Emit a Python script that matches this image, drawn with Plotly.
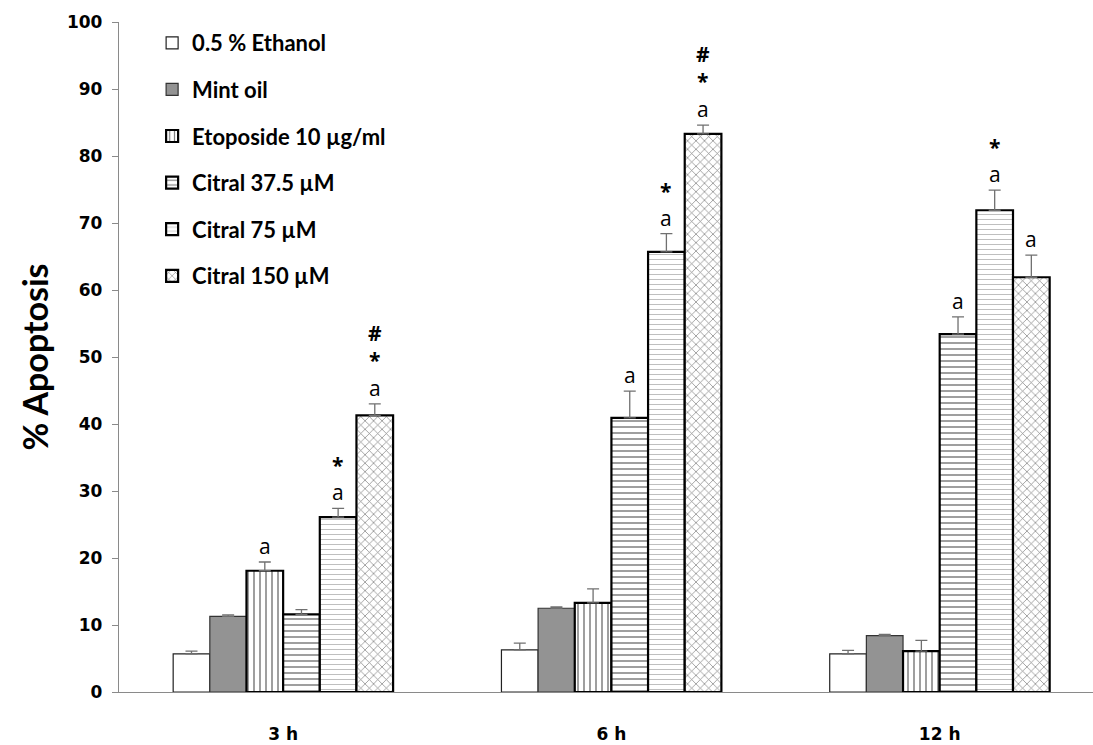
import plotly.graph_objects as go

times = ["3 h", "6 h", "12 h"]
series = ["0.5 % Ethanol", "Mint oil", "Etoposide 10 µg/ml", "Citral 37.5 µM", "Citral 75 µM", "Citral 150 µM"]

ethanol = [5.7, 6.3, 5.7]
mint = [11.3, 12.5, 8.4]
etoposide = [18.1, 13.3, 6.1]
citral_37 = [11.6, 40.9, 53.4]
citral_75 = [26.1, 65.7, 71.9]
citral_150 = [41.3, 83.3, 61.9]

ethanol_err = [0.4, 1.0, 0.5]
mint_err = [0.2, 0.2, 0.2]
etoposide_err = [1.3, 2.1, 1.6]
citral_37_err = [0.7, 4.0, 2.6]
citral_75_err = [1.3, 2.7, 3.0]
citral_150_err = [1.7, 1.3, 3.3]

ethanol_sig = ["", "", ""]
mint_sig = ["", "", ""]
etoposide_sig = ["a", "", ""]
citral_37_sig = ["", "a", "a"]
citral_75_sig = ["<b>*</b><br>a", "<b>*</b><br>a", "<b>*</b><br>a"]
citral_150_sig = ["<b>#</b><br><b>*</b><br>a", "<b>#</b><br><b>*</b><br>a", "a"]

values = [ethanol, mint, etoposide, citral_37, citral_75, citral_150]
errors = [ethanol_err, mint_err, etoposide_err, citral_37_err, citral_75_err, citral_150_err]
sigs = [ethanol_sig, mint_sig, etoposide_sig, citral_37_sig, citral_75_sig, citral_150_sig]

patterns = [
    None,
    None,
    dict(shape="|", fgcolor="black", bgcolor="white", size=6, solidity=0.25),
    dict(shape="-", fgcolor="black", bgcolor="white", size=6, solidity=0.25),
    dict(shape="-", fgcolor="#555555", bgcolor="white", size=5, solidity=0.15),
    dict(shape="x", fgcolor="black", bgcolor="white", size=6, solidity=0.22),
]
fills = ["white", "#939393", "white", "white", "white", "white"]
outline_w = [1.2, 1.2, 2.2, 2.2, 2.2, 2.2]
outline_c = ["#222222", "#333333", "black", "black", "black", "black"]

bargap = 0.33
fig = go.Figure()
n = len(series)
w = (1 - bargap) / n
for i, (name, v, e, s) in enumerate(zip(series, values, errors, sigs)):
    fig.add_trace(go.Bar(
        x=list(range(len(times))), y=v, name=name,
        marker=dict(color=fills[i], line=dict(color=outline_c[i], width=outline_w[i]),
                    pattern=patterns[i]),
        error_y=dict(type="data", array=e, symmetric=False, arrayminus=[0]*len(e),
                     color="#707070", thickness=1.3, width=6),
        legendgroup=name,
    ))
    off = -(1 - bargap) / 2 + (i + 0.5) * w
    for j in range(len(times)):
        if s[j]:
            fig.add_annotation(x=j + off, y=v[j] + e[j], xref="x", yref="y", text=s[j],
                               showarrow=False, yanchor="bottom", yshift=0,
                               font=dict(family="Open Sans", size=21, color="black"))

fig.update_layout(
    width=1093, height=745,
    margin=dict(l=119, r=0, t=22, b=53),
    paper_bgcolor="white", plot_bgcolor="white",
    barmode="group", bargap=bargap, bargroupgap=0,
    showlegend=True,
    legend=dict(x=0.034, y=1.0, xanchor="left", yanchor="top",
                font=dict(family="Lato", size=22, color="black", weight="bold"),
                tracegroupgap=15, traceorder="grouped", itemwidth=30,
                bgcolor="rgba(0,0,0,0)"),
    xaxis=dict(tickmode="array", tickvals=list(range(len(times))), ticktext=times,
               range=[-0.5, 2.467], showline=True, linecolor="#8a8a8a", linewidth=1.3,
               ticks="", ticklabelstandoff=26,
               tickfont=dict(family="DejaVu Sans", size=17, color="black", weight="bold"),
               showgrid=False, zeroline=False),
    yaxis=dict(range=[0, 100], dtick=10, showline=True, linecolor="#8a8a8a", linewidth=1.3,
               ticks="outside", ticklen=6, tickcolor="#8a8a8a", ticklabelstandoff=6,
               tickfont=dict(family="DejaVu Sans", size=17, color="black", weight="bold"),
               title=dict(text="% Apoptosis", font=dict(family="Lato", size=34, color="black", weight="bold"),
                          standoff=8),
               showgrid=False, zeroline=False),
)

fig.write_html("out.html")
